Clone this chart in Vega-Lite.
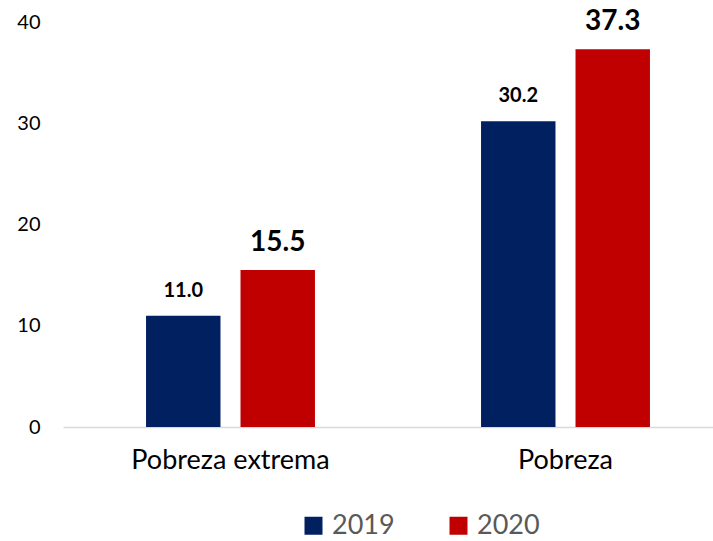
{
  "$schema": "https://vega.github.io/schema/vega-lite/v6.json",
  "autosize": {"type": "none"},
  "width": 670,
  "height": 405,
  "padding": {"left": 63, "top": 22, "right": 0, "bottom": 114},
  "background": "white",
  "config": {"view": {"stroke": null}, "font": "Lato"},
  "data": {"values": [
    {"cat": "Pobreza extrema", "year": "2019", "value": 11.0},
    {"cat": "Pobreza extrema", "year": "2020", "value": 15.5},
    {"cat": "Pobreza", "year": "2019", "value": 30.2},
    {"cat": "Pobreza", "year": "2020", "value": 37.3}
  ]},
  "encoding": {
    "x": {"field": "cat", "type": "nominal", "sort": ["Pobreza extrema", "Pobreza"],
      "scale": {"paddingInner": 0, "paddingOuter": 0},
      "axis": {"title": null, "labelAngle": 0, "labelFontSize": 27, "labelColor": "#000000", "labelPadding": 20, "labelLimit": 0,
        "ticks": false, "domainColor": "#d9d9d9", "domainWidth": 1.5, "labelFont": "Lato"}},
    "xOffset": {"field": "year", "type": "nominal", "scale": {"domain": ["2019", "2020"], "paddingInner": 0.212, "paddingOuter": 0.879}},
    "y": {"field": "value", "type": "quantitative",
      "scale": {"domain": [0, 40], "nice": false},
      "axis": {"title": null, "values": [0, 10, 20, 30, 40], "domain": false, "ticks": false, "grid": false,
        "labelFontSize": 20, "labelColor": "#000000", "labelPadding": 23, "labelFont": "Lato"}}
  },
  "layer": [
    {"mark": {"type": "bar"},
      "encoding": {"color": {"field": "year", "type": "nominal",
        "scale": {"domain": ["2019", "2020"], "range": ["#002060", "#C00000"]},
        "legend": {"title": null, "orient": "none", "direction": "horizontal", "legendX": 237, "legendY": 490, "padding": 0,
          "symbolType": "square", "symbolSize": 324, "symbolStrokeWidth": 0, "labelFontSize": 27, "labelColor": "#595959",
          "labelFont": "Lato", "columnPadding": 50, "labelOffset": 5,
          "encode": {"symbols": {"update": {"fill": [{"test": "datum.value === '2020'", "value": "#FF0000"}, {"value": "#002060"}], "opacity": {"value": 1}}}}}}}},
    {"transform": [{"filter": "datum.year === '2019'"}],
      "mark": {"type": "text", "baseline": "alphabetic", "dy": -19, "fontWeight": "bold", "color": "#000000", "fontSize": 20},
      "encoding": {"text": {"field": "value", "type": "quantitative", "format": ".1f"}}},
    {"transform": [{"filter": "datum.year === '2020'"}],
      "mark": {"type": "text", "baseline": "alphabetic", "dy": -19, "fontWeight": "bold", "color": "#000000", "fontSize": 28},
      "encoding": {"text": {"field": "value", "type": "quantitative", "format": ".1f"}}}
  ]
}
